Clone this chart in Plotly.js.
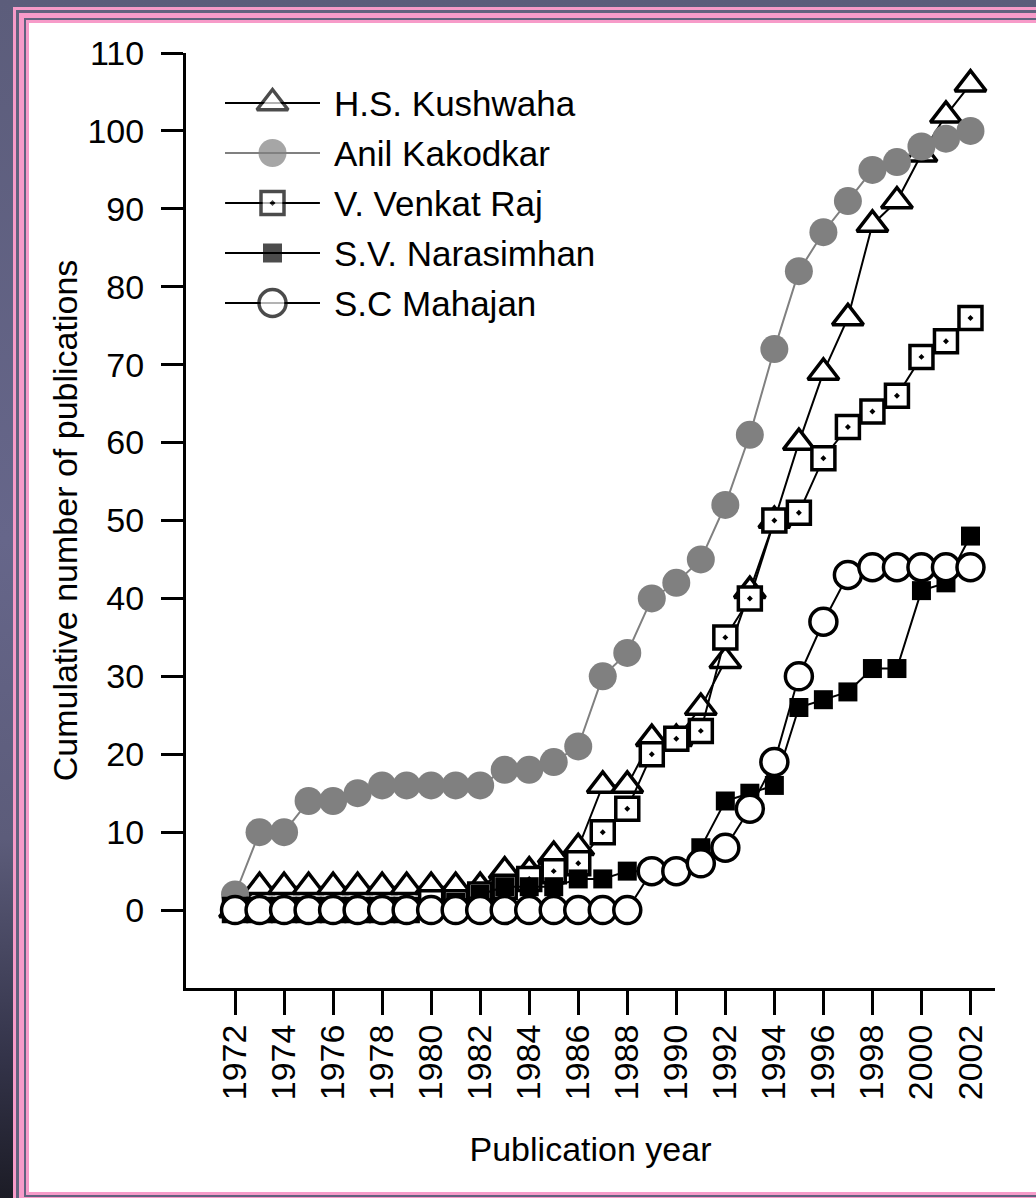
<!DOCTYPE html>
<html>
<head>
<meta charset="utf-8">
<script src="https://cdn.plot.ly/plotly-3.0.1.min.js"></script>
<style>
  html, body { margin:0; padding:0; }
  body {
    width:1036px; height:1198px; overflow:hidden; position:relative;
    background: linear-gradient(to bottom, #5c5d7b 0%, #66668a 45%, #5c5c7a 70%, #34344a 88%, #1c1c26 100%);
  }
  #frame {
    position:absolute; left:29px; top:23px; width:1040px; height:1169px;
    background:#ffffff;
    box-shadow: 0 0 0 3px #f79bc9, 0 0 0 5px #62627e, 0 0 0 10px #f79bc9, 0 0 0 13px #62627e, 0 0 0 16px #f79bc9;
  }
  #chart { position:absolute; left:0; top:0; width:1036px; height:1198px; }
</style>
</head>
<body>
<div id="frame"></div>
<div id="chart"></div>
<script>
// ---- data ----
const years = [1972,1973,1974,1975,1976,1977,1978,1979,1980,1981,1982,1983,1984,1985,1986,1987,
               1988,1989,1990,1991,1992,1993,1994,1995,1996,1997,1998,1999,2000,2001,2002];
const seriesNames = ["H.S. Kushwaha","Anil Kakodkar","V. Venkat Raj","S.V. Narasimhan","S.C Mahajan"];
const kushwaha   = [0,3,3,3,3,3,3,3,3,3,3,5,5,7,8,16,16,22,22,26,32,41,50,60,69,76,88,91,97,102,106];
const kakodkar   = [2,10,10,14,14,15,16,16,16,16,16,18,18,19,21,30,33,40,42,45,52,61,72,82,87,91,95,96,98,99,100];
const venkatRaj  = [0,0,0,0,0,0,0,0,1,1,2,3,4,5,6,10,13,20,22,23,35,40,50,51,58,62,64,66,71,73,76];
const narasimhan = [0,0,0,0,0,0,0,0,0,1,2,3,3,3,4,4,5,5,5,8,14,15,16,26,27,28,31,31,41,42,48];
const mahajan    = [0,0,0,0,0,0,0,0,0,0,0,0,0,0,0,0,0,5,5,6,8,13,19,30,37,43,44,44,44,44,44];
const xTickVals  = [1972,1974,1976,1978,1980,1982,1984,1986,1988,1990,1992,1994,1996,1998,2000,2002];
const xTickText  = ["1972","1974","1976","1978","1980","1982","1984","1986","1988","1990","1992","1994","1996","1998","2000","2002"];
const yTickVals  = [0,10,20,30,40,50,60,70,80,90,100,110];
const yTickText  = ["0","10","20","30","40","50","60","70","80","90","100","110"];

// ---- styles ----
const FONT = "Liberation Sans, Arial, Helvetica, sans-serif";
const styles = [
  {symbol:"triangle-up", size:27, color:"#ffffff", lineColor:"#000000", lw:3.5, trace:"#000000"},
  {symbol:"circle",      size:28, color:"#808080", lineColor:"#808080", lw:0,   trace:"#808080"},
  {symbol:"square-dot",  size:23, color:"#ffffff", lineColor:"#000000", lw:3.5, trace:"#000000"},
  {symbol:"square",      size:19, color:"#000000", lineColor:"#000000", lw:0,   trace:"#000000"},
  {symbol:"circle",      size:27, color:"#ffffff", lineColor:"#000000", lw:3.5, trace:"#000000"}
];
const allSeries = [kushwaha, kakodkar, venkatRaj, narasimhan, mahajan];

const traces = allSeries.map((vals, i) => ({
  type:"scatter", mode:"lines+markers", name:seriesNames[i],
  x:years, y:vals, showlegend:false, hoverinfo:"x+y+name",
  line:{color:styles[i].trace, width:2},
  marker:{symbol:styles[i].symbol, size:styles[i].size, color:styles[i].color,
          line:{color:styles[i].lineColor, width:styles[i].lw}}
}));

// custom legend drawn on an overlay axis measured in plot pixels
const legendAnn = [];
seriesNames.forEach((nm, i) => {
  const ry = 50 + i * 50;
  const st = styles[i];
  traces.push({
    type:"scatter", mode:"lines+markers", xaxis:"x2", yaxis:"y2", showlegend:false, hoverinfo:"skip",
    x:[39, 86.5, 134], y:[ry, ry, ry],
    line:{color:st.trace, width:2},
    marker:{symbol:st.symbol, size:[0, st.size, 0], color:st.color,
            line:{color:st.lineColor, width:[0, st.lw, 0]}}
  });
  legendAnn.push({xref:"x2", yref:"y2", x:146, y:ry, xanchor:"left", yanchor:"middle",
    text:nm, showarrow:false, font:{family:FONT, size:35, color:"#000000"}});
});

const layout = {
  width:1036, height:1198,
  paper_bgcolor:"rgba(0,0,0,0)", plot_bgcolor:"rgba(0,0,0,0)",
  margin:{l:186, r:41, t:53, b:210},
  font:{family:FONT, color:"#000000"},
  showlegend:false,
  xaxis:{
    range:[1970, 2003], tickmode:"array", tickvals:xTickVals, ticktext:xTickText,
    tickangle:-90, ticks:"outside", ticklen:24, tickwidth:3, tickcolor:"#000",
    showline:true, linewidth:3, linecolor:"#000", showgrid:false, zeroline:false,
    tickfont:{family:FONT, size:34, color:"#000"}, ticklabelstandoff:-4,
    title:{text:"Publication year", font:{family:FONT, size:34, color:"#000"}, standoff:38}
  },
  yaxis:{
    range:[-10, 110], tickmode:"array", tickvals:yTickVals, ticktext:yTickText,
    ticks:"outside", ticklen:22, tickwidth:3, tickcolor:"#000",
    showline:true, linewidth:3, linecolor:"#000", showgrid:false, zeroline:false,
    tickfont:{family:FONT, size:34, color:"#000"}, ticklabelstandoff:10,
    title:{text:"Cumulative number of publications", font:{family:FONT, size:34, color:"#000"}, standoff:0}
  },
  xaxis2:{overlaying:"x", anchor:"y2", range:[0, 809], visible:false, fixedrange:true},
  yaxis2:{overlaying:"y", anchor:"x2", range:[935, 0], visible:false, fixedrange:true},
  annotations:legendAnn
};

Plotly.newPlot("chart", traces, layout, {displayModeBar:false, staticPlot:true});
</script>
</body>
</html>
